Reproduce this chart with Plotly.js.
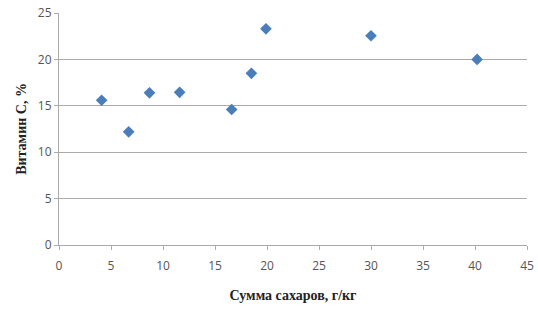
<!DOCTYPE html>
<html><head><meta charset="utf-8">
<script src="https://cdn.plot.ly/plotly-3.0.1.min.js"></script>
<style>html,body{margin:0;padding:0;background:#fff}#c{width:538px;height:311px}</style>
</head><body><div id="c"></div>
<script>
const sugars = [4.1, 6.7, 8.7, 11.6, 16.6, 18.5, 19.9, 30.0, 40.2];
const vitaminC = [15.6, 12.2, 16.4, 16.45, 14.6, 18.5, 23.3, 22.55, 20.0];
const xTicks = [0, 5, 10, 15, 20, 25, 30, 35, 40, 45];
const yTicks = [0, 5, 10, 15, 20, 25];
const xTitle = 'Сумма сахаров, г/кг';
const yTitle = 'Витамин С, %';

Plotly.newPlot('c', [{
  x: sugars, y: vitaminC, type: 'scatter', mode: 'markers',
  marker: {symbol: 'diamond', size: 9, color: '#4a7ebb'}
}], {
  width: 538, height: 311,
  margin: {l: 59, r: 11, t: 13, b: 66},
  paper_bgcolor: '#fff', plot_bgcolor: '#fff',
  showlegend: false,
  font: {family: 'Open Sans, sans-serif', size: 12, color: '#555'},
  xaxis: {
    range: [0, 45], tickvals: xTicks, ticktext: xTicks.map(String),
    showgrid: false, zeroline: false, showline: true, linecolor: '#aaa', linewidth: 1,
    ticks: 'outside', ticklen: 4, tickcolor: '#aaa', ticklabelstandoff: 6,
    tickfont: {size: 12, color: '#555'},
    title: {text: xTitle, font: {family: 'Liberation Serif, serif', size: 14, color: '#222', weight: 'bold'}, standoff: 16}
  },
  yaxis: {
    range: [0, 25], tickvals: yTicks, ticktext: yTicks.map(String),
    showgrid: true, gridcolor: '#aaa', gridwidth: 1, zeroline: false,
    showline: true, linecolor: '#aaa', linewidth: 1,
    ticks: 'outside', ticklen: 4, tickcolor: '#aaa',
    tickfont: {size: 12, color: '#555'},
    title: {text: yTitle, font: {family: 'Liberation Serif, serif', size: 14, color: '#222', weight: 'bold'}, standoff: 7}
  }
}, {staticPlot: true});
</script></body></html>
